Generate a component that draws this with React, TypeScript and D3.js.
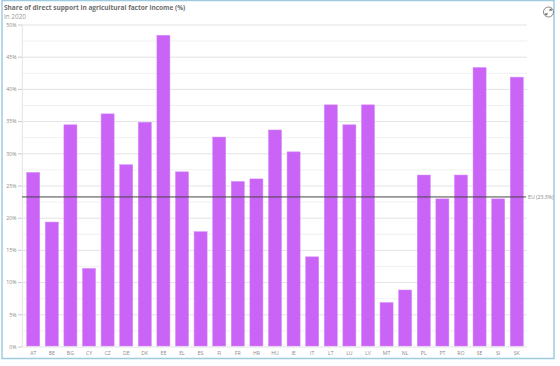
import React from "react";
import * as d3 from "d3";

const categories = ["AT","BE","BG","CY","CZ","DE","DK","EE","EL","ES","FI","FR","HR","HU","IE","IT","LT","LU","LV","MT","NL","PL","PT","RO","SE","SI","SK"];
const values = [27.1,19.4,34.5,12.2,36.2,28.3,34.9,48.4,27.2,17.9,32.6,25.7,26.1,33.7,30.3,14.0,37.6,34.5,37.6,6.9,8.85,26.7,23.0,26.7,43.4,23.0,41.9];
const euAverage = 23.3;
const yTicks = [0,5,10,15,20,25,30,35,40,45,50];
const minorTicks = [2.5,7.5,12.5,17.5,22.5,27.5,32.5,37.5,42.5,47.5];

export default function App() {
  const W = 560, H = 366;
  const x = d3.scaleBand<string>().domain(categories).range([23, 527]).paddingInner(0.3).paddingOuter(0.2);
  const y = d3.scaleLinear().domain([0, 50]).range([347, 25]);
  const font = "'Open Sans', sans-serif";
  const labelColor = "#8a8a8a";
  return (
    <svg width={W} height={H} style={{ position: "absolute", left: 0, top: 0, background: "#fff" }} fontFamily={font}>
      <rect x={2} y={0.5} width={552} height={358} fill="#fff" stroke="#9fcbe0" strokeWidth={1.5} />
      <text x={4} y={9.5} fontSize={6.5} fontWeight={700} fill="#6e6e6e">Share of direct support in agricultural factor income (%)</text>
      <text x={4} y={18.5} fontSize={6.4} fill="#9a9a9a">In 2020</text>
      <g>
        <circle cx={548.5} cy={12} r={5} fill="#fff" stroke="#666" strokeWidth={0.8} />
        <path d="M545.8,14.7 L547.6,12.9 M551.2,9.3 L549.4,11.1" stroke="#444" strokeWidth={0.9} />
        <path d="M545.8,14.7 l0,-1.6 M545.8,14.7 l1.6,0 M551.2,9.3 l0,1.6 M551.2,9.3 l-1.6,0" stroke="#444" strokeWidth={0.8} />
      </g>
      {minorTicks.map(t => (
        <line key={"m" + t} x1={22} x2={527} y1={y(t)} y2={y(t)} stroke="#f1f1f1" strokeWidth={1} />
      ))}
      {yTicks.map(t => (
        <g key={t}>
          <line x1={22} x2={527} y1={y(t)} y2={y(t)} stroke="#e3e3e3" strokeWidth={1} />
          <line x1={18} x2={22} y1={y(t)} y2={y(t)} stroke="#bbb" strokeWidth={0.8} />
          <text x={16.5} y={y(t) + 1.8} fontSize={5.2} fill={labelColor} textAnchor="end">{t + "%"}</text>
        </g>
      ))}
      <line x1={22.3} x2={22.3} y1={y(50)} y2={y(0)} stroke="#e3e3e3" strokeWidth={1} />
      {categories.map((c, i) => (
        <g key={c}>
          <rect x={x(c)} y={y(values[i])} width={x.bandwidth()} height={y(0) - y(values[i]) - 1} fill="#c964f6" stroke="#d586fa" strokeWidth={0.5} />
          <text x={(x(c) as number) + x.bandwidth() / 2} y={355} fontSize={5.2} fill={labelColor} textAnchor="middle">{c}</text>
        </g>
      ))}
      <line x1={22} x2={526} y1={y(euAverage)} y2={y(euAverage)} stroke="#444" strokeWidth={1} />
      <text x={528} y={y(euAverage) + 1.8} fontSize={5.2} fill={labelColor}>{"EU (" + euAverage + "%)"}</text>
    </svg>
  );
}
